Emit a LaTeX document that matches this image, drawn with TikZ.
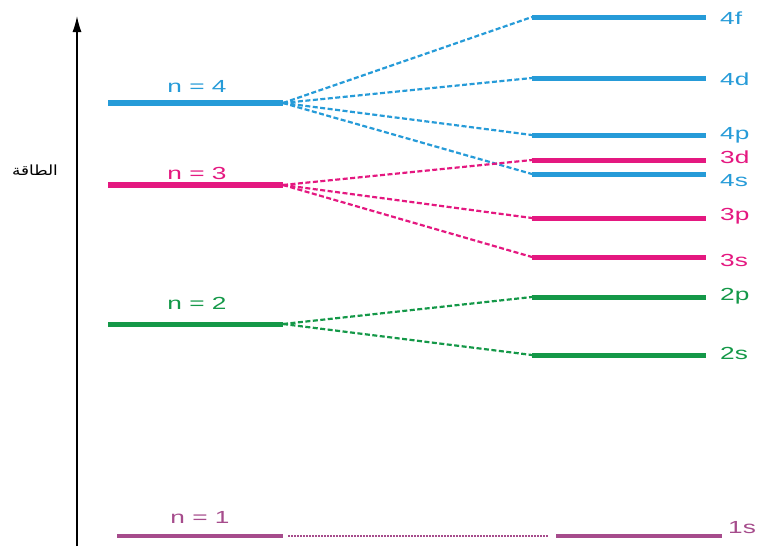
\documentclass[tikz,border=0pt]{standalone}
\usepackage{fontspec}
\setmainfont{Liberation Sans}[FakeStretch=1.5]
\newfontfamily\arabicfont[Script=Arabic,FakeStretch=1.2]{DejaVu Sans}
\TeXXeTstate=1
\usetikzlibrary{arrows.meta}

\definecolor{shellblue}{RGB}{38,155,216}
\definecolor{shellpink}{RGB}{228,24,128}
\definecolor{shellgreen}{RGB}{20,152,72}
\definecolor{shellpurple}{RGB}{166,76,140}

\begin{document}
\begin{tikzpicture}[x=1pt,y=-1pt]
\tikzstyle{every node}+=[inner sep=0pt,font=\fontsize{17.5}{19}\selectfont]
\tikzstyle{level}=[line width=5pt]
\tikzstyle{split}=[dash pattern=on 5pt off 2.5pt,line width=2.2pt]
\useasboundingbox (0,0) rectangle (757,546);
% energy axis
\coordinate (axisB) at (77,546);
\coordinate (axisT) at (77,16);
\draw [black,line width=1.3pt,-{Latex[length=16pt,width=9pt]}] (axisB) -- (axisT);
\node (energy) at (35,170) {\fontsize{14}{16}\selectfont\arabicfont\beginR الطاقة\endR};
% principal levels
\coordinate (n4L) at (108,103); \coordinate (n4R) at (283,103);
\coordinate (n3L) at (108,185); \coordinate (n3R) at (283,185);
\coordinate (n2L) at (108,324); \coordinate (n2R) at (283,324);
\coordinate (n1L) at (117,536); \coordinate (n1R) at (283,536);
\draw [shellblue,level,line width=6.5pt] (n4L) -- (n4R);
\draw [shellpink,level,line width=5.5pt] (n3L) -- (n3R);
\draw [shellgreen,level] (n2L) -- (n2R);
\draw [shellpurple,level,line width=3.5pt] (n1L) -- (n1R);
\node [shellblue] (n4) at (197,86) {n = 4};
\node [shellpink] (n3) at (197,173) {n = 3};
\node [shellgreen] (n2) at (197,303) {n = 2};
\node [shellpurple] (n1) at (200,517) {n = 1};
% sublevels
\coordinate (s4fL) at (532,17);  \coordinate (s4fR) at (706,17);
\coordinate (s4dL) at (532,78);  \coordinate (s4dR) at (706,78);
\coordinate (s4pL) at (532,135); \coordinate (s4pR) at (706,135);
\coordinate (s3dL) at (532,160); \coordinate (s3dR) at (706,160);
\coordinate (s4sL) at (532,174); \coordinate (s4sR) at (706,174);
\coordinate (s3pL) at (532,218); \coordinate (s3pR) at (706,218);
\coordinate (s3sL) at (532,257); \coordinate (s3sR) at (706,257);
\coordinate (s2pL) at (532,297); \coordinate (s2pR) at (706,297);
\coordinate (s2sL) at (532,355); \coordinate (s2sR) at (706,355);
\coordinate (s1sL) at (556,536); \coordinate (s1sR) at (722,536);
\draw [shellblue,level] (s4fL) -- (s4fR);
\draw [shellblue,level] (s4dL) -- (s4dR);
\draw [shellblue,level] (s4pL) -- (s4pR);
\draw [shellpink,level] (s3dL) -- (s3dR);
\draw [shellblue,level] (s4sL) -- (s4sR);
\draw [shellpink,level] (s3pL) -- (s3pR);
\draw [shellpink,level] (s3sL) -- (s3sR);
\draw [shellgreen,level] (s2pL) -- (s2pR);
\draw [shellgreen,level] (s2sL) -- (s2sR);
\draw [shellpurple,level,line width=3.5pt] (s1sL) -- (s1sR);
\node [shellblue,anchor=west] (l4f) at (720,18) {4f};
\node [shellblue,anchor=west] (l4d) at (720,79) {4d};
\node [shellblue,anchor=west] (l4p) at (720,135) {4p};
\node [shellpink,anchor=west] (l3d) at (720,157) {3d};
\node [shellblue,anchor=west] (l4s) at (720,181) {4s};
\node [shellpink,anchor=west] (l3p) at (720,216) {3p};
\node [shellpink,anchor=west] (l3s) at (720,260) {3s};
\node [shellgreen,anchor=west] (l2p) at (720,296) {2p};
\node [shellgreen,anchor=west] (l2s) at (720,353) {2s};
\node [shellpurple,anchor=west] (l1s) at (728,528) {1s};
% splitting
\draw [shellblue,split] (n4R) -- (s4fL);
\draw [shellblue,split] (n4R) -- (s4dL);
\draw [shellblue,split] (n4R) -- (s4pL);
\draw [shellblue,split] (n4R) -- (s4sL);
\draw [shellpink,split] (n3R) -- (s3dL);
\draw [shellpink,split] (n3R) -- (s3pL);
\draw [shellpink,split] (n3R) -- (s3sL);
\draw [shellgreen,split] (n2R) -- (s2pL);
\draw [shellgreen,split] (n2R) -- (s2sL);
\draw [shellpurple,line width=2.2pt,dash pattern=on 2pt off 1pt,shorten <=5pt,shorten >=8pt] (n1R) -- (s1sL);
\end{tikzpicture}
\end{document}
